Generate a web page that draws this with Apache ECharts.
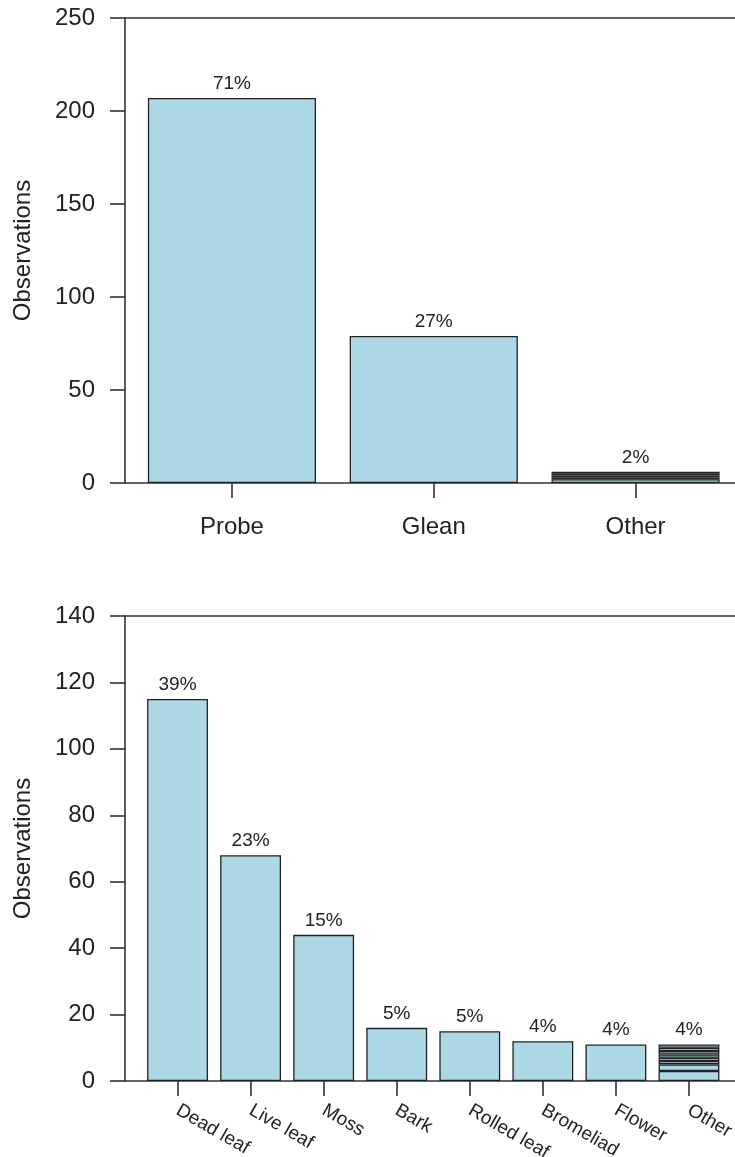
<!DOCTYPE html>
<html>
<head>
<meta charset="utf-8">
<script src="https://cdn.jsdelivr.net/npm/echarts@6/dist/echarts.min.js"></script>
<style>
html,body{margin:0;padding:0;background:#fff;}
#chart{width:735px;height:1157px;}
</style>
</head>
<body>
<div id="chart"></div>
<script>
// ---- data ----
const topCats = ['Probe', 'Glean', 'Other'];
const topMain = [207, 79, '-'];
const topOtherParts = [2, 1, 1, 1, 1];
const topPct = ['71%', '27%', '2%'];
const topTicks = [0, 50, 100, 150, 200, 250];

const botCats = ['Dead leaf', 'Live leaf', 'Moss', 'Bark', 'Rolled leaf', 'Bromeliad', 'Flower', 'Other'];
const botMain = [115, 68, 44, 16, 15, 12, 11, '-'];
const botOtherParts = [3, 2, 1, 1, 1, 1, 1, 1];
const botPct = ['39%', '23%', '15%', '5%', '5%', '4%', '4%', '4%'];
const botTicks = [0, 20, 40, 60, 80, 100, 120, 140];

// ---- style ----
const FONT = '"Liberation Sans", Arial, Helvetica, sans-serif';
const INK = '#222';
const BAR = '#ADD8E6';
const LINE = { color: '#333', width: 1.6 };

const chart = echarts.init(document.getElementById('chart'), null, { renderer: 'canvas' });

function frameAxes(gridIndex, ticks) {
  const xAxes = [
    { type: 'value', gridIndex, min: 0, max: 1, position: 'bottom',
      axisLine: { show: true, onZero: false, lineStyle: LINE },
      axisTick: { show: false }, axisLabel: { show: false }, splitLine: { show: false } },
    { type: 'value', gridIndex, min: 0, max: 1, position: 'top',
      axisLine: { show: true, onZero: false, lineStyle: LINE },
      axisTick: { show: false }, axisLabel: { show: false }, splitLine: { show: false } }
  ];
  const yAxis = {
    type: 'value', gridIndex, min: ticks[0], max: ticks[ticks.length - 1],
    interval: ticks[1] - ticks[0], position: 'left',
    name: 'Observations', nameLocation: 'middle', nameGap: 90,
    nameTextStyle: { fontFamily: FONT, fontSize: 24, color: INK },
    axisLine: { show: true, onZero: false, lineStyle: LINE },
    axisTick: { show: true, inside: false, length: 15, lineStyle: LINE },
    axisLabel: { show: true, margin: 30, fontFamily: FONT, fontSize: 24, color: INK },
    splitLine: { show: false }
  };
  return { xAxes, yAxis };
}

function dataAxes(gridIndex, cats, ticks, labelOpts) {
  const xAxis = {
    type: 'category', gridIndex, data: cats, position: 'bottom',
    axisLine: { show: false },
    axisTick: { show: true, alignWithLabel: true, length: 15, lineStyle: LINE },
    axisLabel: Object.assign({ show: true, interval: 0, fontFamily: FONT, color: INK }, labelOpts),
    splitLine: { show: false }
  };
  const yAxis = {
    type: 'value', gridIndex, min: ticks[0], max: ticks[ticks.length - 1], show: false
  };
  return { xAxis, yAxis };
}

const fTop = frameAxes(0, topTicks);
const dTop = dataAxes(1, topCats, topTicks, { fontSize: 24, margin: 32 });
const fBot = frameAxes(2, botTicks);
const dBot = dataAxes(3, botCats, botTicks, { fontSize: 19, margin: 28, rotate: -30 });

const xAxis = [fTop.xAxes[0], fTop.xAxes[1], dTop.xAxis, fBot.xAxes[0], fBot.xAxes[1], dBot.xAxis];
const yAxis = [fTop.yAxis, dTop.yAxis, fBot.yAxis, dBot.yAxis];

const barStyle = { color: BAR, borderColor: INK, borderWidth: 1.3 };
const pctLabel = (pct, fs) => ({
  show: true, position: 'top', distance: 5,
  fontFamily: FONT, fontSize: fs, color: INK,
  formatter: p => pct[p.dataIndex]
});

function buildSeries(xIdx, yIdx, cats, main, parts, pct, gap, stackName) {
  const out = [];
  out.push({
    type: 'bar', xAxisIndex: xIdx, yAxisIndex: yIdx, stack: stackName,
    data: main, barCategoryGap: gap, itemStyle: barStyle,
    label: pctLabel(pct, 19), silent: true, animation: false
  });
  const last = cats.length - 1;
  parts.forEach((v, k) => {
    out.push({
      type: 'bar', xAxisIndex: xIdx, yAxisIndex: yIdx, stack: stackName,
      data: cats.map((c, i) => (i === last ? v : '-')),
      barCategoryGap: gap, itemStyle: barStyle,
      label: k === parts.length - 1 ? pctLabel(pct, 19) : { show: false },
      silent: true, animation: false
    });
  });
  return out;
}

const series = [].concat(
  buildSeries(2, 1, topCats, topMain, topOtherParts, topPct, '16.7%', 'top'),
  buildSeries(5, 3, botCats, botMain, botOtherParts, botPct, '16.7%', 'bot')
);

chart.setOption({
  animation: false,
  backgroundColor: '#fff',
  textStyle: { fontFamily: FONT },
  grid: [
    { left: 125, right: -7, top: 18, height: 465, outerBoundsMode: 'none', containLabel: false },
    { left: 131, right: -1.5, top: 18, height: 465, outerBoundsMode: 'none', containLabel: false },
    { left: 125, right: -7, top: 616, height: 465, outerBoundsMode: 'none', containLabel: false },
    { left: 141, right: 9.5, top: 616, height: 465, outerBoundsMode: 'none', containLabel: false }
  ],
  xAxis, yAxis, series
});
</script>
</body>
</html>
